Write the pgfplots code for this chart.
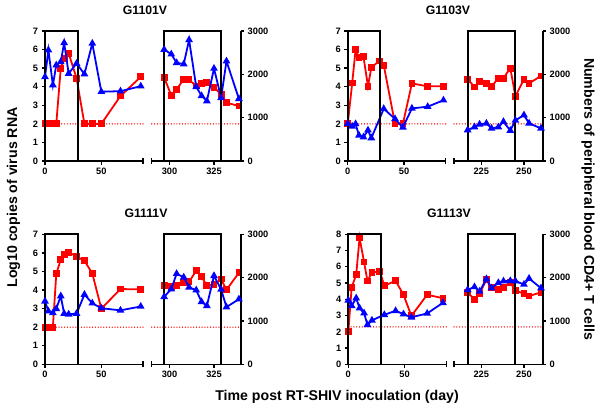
\documentclass[border=0pt]{standalone}
\usepackage{pgfplots}
\pgfplotsset{compat=1.18}
\usepackage{pgfplotstable}
\usepackage{fontspec}
\setmainfont{Liberation Sans}
\definecolor{rnared}{HTML}{FF0000}
\definecolor{cdblue}{HTML}{0000FF}
\newcommand\tickfont{\fontsize{9.3}{10}\selectfont\bfseries}
\newcommand\labfont{\fontsize{14.2}{16}\selectfont\bfseries}

% day, log10 RNA copies, CD4+ T cells
\pgfplotstableread{
day rna cd4
0  2.00 1941
3  2.00 2559
7  2.00 1753
10 2.00 2211
14 5.00 2289
17 5.50 2726
21 5.80 2019
28 4.46 2250
35 2.00 2006
42 2.00 2713
50 2.00 1599
67 3.50 1611
85 4.53 1727
}\gAearly
\pgfplotstableread{
day rna cd4
297 4.50 2572
301 3.53 2465
304 3.85 2266
308 4.41 2236
311 4.37 2795
315 4.04 1713
318 4.18 1505
321 4.22 1383
325 3.97 2135
329 3.59 1459
332 3.14 2304
339 2.96 1436
}\gAlate
\pgfplotstableread{
day rna cd4
0  2.00 863
4  4.20 799
7  6.00 855
10 5.56 592
14 5.61 550
18 4.03 710
21 5.04 530
28 5.38 nan
32 5.16 1206
42 2.00 972
49 2.00 776
57 4.18 1214
71 4.02 1253
85 4.02 1402
}\gBearly
\pgfplotstableread{
day rna cd4
217 4.41 714
221 3.99 783
224 4.30 848
228 4.18 868
231 4.01 753
235 4.46 783
238 4.46 906
242 5.00 703
245 3.49 936
250 4.40 1060
253 4.18 870
260 4.58 753
}\gBlate
\pgfplotstableread{
day rna cd4
0  2.00 1455
3  2.00 1226
7  2.00 1186
10 4.87 1282
14 5.64 1575
17 5.93 1170
21 6.04 1155
28 5.80 1170
35 5.58 1610
42 4.89 1410
50 3.00 1294
67 4.05 1245
85 4.04 1335
}\gCearly
\pgfplotstableread{
day rna cd4
297 4.25 1558
301 4.18 1735
304 4.25 2090
308 4.40 2008
311 4.44 1777
315 5.04 1712
318 4.72 1443
321 4.24 1350
325 4.29 2042
329 4.59 1728
332 4.01 1320
339 4.93 1504
}\gClate
\pgfplotstableread{
day rna cd4
0  2.01 1478
3  4.74 1350
7  5.51 1527
10 7.78 1297
14 6.29 1181
17 5.13 912
21 5.65 1015
28 5.71 nan
32 4.83 1143
42 5.14 1235
49 4.28 1158
56 2.98 1085
70 4.28 1174
84 4.07 1419
}\gDearly
\pgfplotstableread{
day rna cd4
217 4.40 1719
221 4.01 1785
224 4.35 1681
228 5.20 1970
231 4.71 1758
235 4.58 1881
238 4.73 1919
242 5.02 1927
245 4.54 1920
250 4.35 1843
253 4.20 1980
260 4.43 1758
}\gDlate

\pgfplotsset{
  base/.style={scale only axis, height=130bp, clip=false, anchor=south west,
    axis line style={line width=1.6bp, black},
    every tick/.style={line width=1.3bp, black},
    major tick length=3.5bp, tick align=outside,
    tick label style={font=\tickfont},
    /pgf/number format/assume math mode=true,
    /pgf/number format/1000 sep={},
    scaled ticks=false},
  rnaline/.style={rnared, line width=1.8bp, mark=square*, mark size=2.5bp,
    mark options={solid, fill=rnared}},
  cdline/.style={cdblue, line width=1.8bp, mark=triangle*, mark size=2.7bp,
    mark options={solid, fill=cdblue}},
  limit/.style={draw=rnared, line width=1.4bp, line cap=round,
    dash pattern=on 0bp off 2.8bp, no markers},
  box/.style={black, line width=2bp, no markers},
  earlyred/.style={base, width=98bp, xmin=0, xmax=87, xtick={0,50},
    axis x line*=bottom, axis y line*=left,
    extra x ticks={87}, extra x tick labels={},
    extra x tick style={major tick length=6bp, tick align=center}},
  earlycd/.style={base, width=98bp, xmin=0, xmax=87, ymin=0, ymax=3000, hide axis},
  latered/.style={base, axis x line*=bottom, axis y line=none, ytick=\empty,
    extra x tick labels={},
    extra x tick style={major tick length=6bp, tick align=center}},
  latecd/.style={base, ymin=0, ymax=3000, axis x line=none, axis y line*=right,
    xtick=\empty, ytick={0,1000,2000,3000}},
}

\begin{document}
\begin{tikzpicture}
\path[use as bounding box] (0,0) rectangle (600bp,-408bp);

% ---------- G1101V ----------
\begin{axis}[earlyred, at={(45bp,-161bp)}, ymin=0, ymax=7, ytick={0,...,7}]
\addplot[limit] coordinates {(0,2) (87,2)};
\addplot[rnaline] table[x=day, y=rna] {\gAearly};
\end{axis}
\begin{axis}[earlycd, at={(45bp,-161bp)}]
\addplot[cdline] table[x=day, y=cd4] {\gAearly};
\addplot[box] coordinates {(0,0) (0,3000) (29,3000) (29,0)};
\end{axis}
\begin{axis}[latered, at={(151.7bp,-161bp)}, width=89bp, xmin=290, xmax=340,
  ymin=0, ymax=7, xtick={300,325}, extra x ticks={290}]
\addplot[limit] coordinates {(290,2) (340,2)};
\addplot[rnaline] table[x=day, y=rna] {\gAlate};
\end{axis}
\begin{axis}[latecd, at={(151.7bp,-161bp)}, width=89bp, xmin=290, xmax=340]
\addplot[cdline] table[x=day, y=cd4] {\gAlate};
\addplot[box] coordinates {(297,0) (297,3000) (329,3000) (329,0)};
\end{axis}

% ---------- G1103V ----------
\begin{axis}[earlyred, at={(347.7bp,-161bp)}, ymin=0, ymax=7, ytick={0,...,7}]
\addplot[limit] coordinates {(0,2) (87,2)};
\addplot[rnaline] table[x=day, y=rna] {\gBearly};
\end{axis}
\begin{axis}[earlycd, at={(347.7bp,-161bp)}]
\addplot[cdline] table[x=day, y=cd4] {\gBearly};
\addplot[box] coordinates {(0,0) (0,3000) (29,3000) (29,0)};
\end{axis}
\begin{axis}[latered, at={(454bp,-161bp)}, width=88.7bp, xmin=209, xmax=261,
  ymin=0, ymax=7, xtick={225,250}, extra x ticks={209}]
\addplot[limit] coordinates {(209,2) (261,2)};
\addplot[rnaline] table[x=day, y=rna] {\gBlate};
\end{axis}
\begin{axis}[latecd, at={(454bp,-161bp)}, width=88.7bp, xmin=209, xmax=261]
\addplot[cdline] table[x=day, y=cd4] {\gBlate};
\addplot[box] coordinates {(217,0) (217,3000) (245,3000) (245,0)};
\end{axis}

% ---------- G1111V ----------
\begin{axis}[earlyred, at={(45bp,-364.3bp)}, ymin=0, ymax=7, ytick={0,...,7}]
\addplot[limit] coordinates {(0,2) (87,2)};
\addplot[rnaline] table[x=day, y=rna] {\gCearly};
\end{axis}
\begin{axis}[earlycd, at={(45bp,-364.3bp)}]
\addplot[cdline] table[x=day, y=cd4] {\gCearly};
\addplot[box] coordinates {(0,0) (0,3000) (29,3000) (29,0)};
\end{axis}
\begin{axis}[latered, at={(151.7bp,-364.3bp)}, width=89bp, xmin=290, xmax=340,
  ymin=0, ymax=7, xtick={300,325}, extra x ticks={290}]
\addplot[limit] coordinates {(290,2) (340,2)};
\addplot[rnaline] table[x=day, y=rna] {\gClate};
\end{axis}
\begin{axis}[latecd, at={(151.7bp,-364.3bp)}, width=89bp, xmin=290, xmax=340]
\addplot[cdline] table[x=day, y=cd4] {\gClate};
\addplot[box] coordinates {(297,0) (297,3000) (329,3000) (329,0)};
\end{axis}

% ---------- G1113V ----------
\begin{axis}[earlyred, at={(348.3bp,-364.3bp)}, ymin=0, ymax=8, ytick={0,...,8}]
\addplot[limit] coordinates {(0,2.3) (87,2.3)};
\addplot[rnaline] table[x=day, y=rna] {\gDearly};
\end{axis}
\begin{axis}[earlycd, at={(348.3bp,-364.3bp)}]
\addplot[cdline] table[x=day, y=cd4] {\gDearly};
\addplot[box] coordinates {(0,0) (0,3000) (29,3000) (29,0)};
\end{axis}
\begin{axis}[latered, at={(454bp,-364.3bp)}, width=88.7bp, xmin=209, xmax=261,
  ymin=0, ymax=8, xtick={225,250}, extra x ticks={209}]
\addplot[limit] coordinates {(209,2.3) (261,2.3)};
\addplot[rnaline] table[x=day, y=rna] {\gDlate};
\end{axis}
\begin{axis}[latecd, at={(454bp,-364.3bp)}, width=88.7bp, xmin=209, xmax=261]
\addplot[cdline] table[x=day, y=cd4] {\gDlate};
\addplot[box] coordinates {(217,0) (217,3000) (245,3000) (245,0)};
\end{axis}

% titles and shared labels
\node[font=\fontsize{12.3}{14}\selectfont\bfseries] at (145bp,-10bp) {G1101V};
\node[font=\fontsize{12.3}{14}\selectfont\bfseries] at (448bp,-10bp) {G1103V};
\node[font=\fontsize{12.3}{14}\selectfont\bfseries] at (146bp,-213bp) {G1111V};
\node[font=\fontsize{12.3}{14}\selectfont\bfseries] at (449bp,-213bp) {G1113V};
\node[font=\labfont, rotate=90] at (13.5bp,-197.5bp) {Log10 copies of virus RNA};
\node[font=\labfont, rotate=-90] at (588bp,-199bp) {Numbers of peripheral blood CD4+ T cells};
\node[font=\labfont] at (337bp,-397bp) {Time post RT-SHIV inoculation (day)};
\end{tikzpicture}
\end{document}
